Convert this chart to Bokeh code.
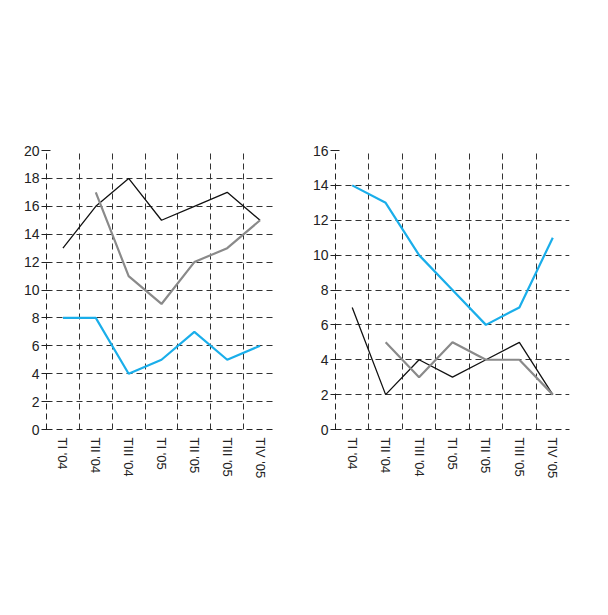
import math
from bokeh.plotting import figure
from bokeh.models import FixedTicker, Range1d, Label
from bokeh.layouts import row
from bokeh.embed import file_html
from bokeh.resources import INLINE

# ---- data ----
categories = ["TI '04", "TII '04", "TIII '04", "TI '05", "TII '05", "TIII '05", "TIV '05"]
series_names = ["Shqiptarë", "Të huaj", "Emigrantë"]

personale_shqiptare = [13, 16, 18, 15, 16, 17, 15]
personale_te_huaj = [8, 8, 4, 5, 7, 5, 6]
personale_emigrante = [None, 17, 11, 9, 12, 13, 15]

biznes_shqiptare = [7, 2, 4, 3, 4, 5, 2]
biznes_te_huaj = [14, 13, 10, 8, 6, 7, 11]
biznes_emigrante = [None, 5, 3, 5, 4, 4, 2]

personale_yticks = [0, 2, 4, 6, 8, 10, 12, 14, 16, 18, 20]
biznes_yticks = [0, 2, 4, 6, 8, 10, 12, 14, 16]

title_lines = ["Grafik 5. Ditëqëndrimi mesatar i udhëtarëve",
               "sipas qëllimit të udhëtimit."]
source_text = "Burimi: Banka e Shqipërisë."

FONT = "Open Sans"
TXT = "#222222"
COLORS = ["#111111", "#1aaeea", "#8a8a8a"]
WIDTHS = [1.3, 2.2, 2.2]

FIG_H = 599
FRAME_TOP = 150
FRAME_H = 279


def make_chart(title, series, yticks, width, border_left, border_right,
               frame_left_page, frame_w, legend_left_page):
    n = len(categories)
    xs = [i + 1 for i in range(n)]
    p = figure(width=width, height=FIG_H, output_backend="svg", toolbar_location=None,
               x_range=Range1d(0.5, n + 0.5), y_range=Range1d(yticks[0], yticks[-1]),
               min_border_left=border_left, min_border_right=border_right,
               min_border_top=FRAME_TOP, min_border_bottom=FIG_H - FRAME_TOP - FRAME_H)
    p.outline_line_color = None

    boundaries = [i + 0.5 for i in range(n + 1)]
    xa = p.xaxis[0]
    xa.ticker = FixedTicker(ticks=xs)
    xa.major_label_overrides = {x: c for x, c in zip(xs, categories)}
    xa.major_label_orientation = -math.pi / 2
    xa.major_tick_in = 0
    xa.major_tick_out = 0
    xa.axis_line_dash = "6 4"
    xa.axis_line_color = TXT
    xa.major_label_text_font_size = "13px"
    xa.major_label_text_color = TXT
    xa.major_label_standoff = 8
    ya = p.yaxis[0]
    ya.ticker = FixedTicker(ticks=yticks)
    ya.major_tick_in = 4
    ya.major_tick_out = 5
    ya.axis_line_dash = "6 4"
    ya.axis_line_color = TXT
    ya.major_tick_line_color = TXT
    ya.major_label_text_font_size = "14px"
    ya.major_label_text_color = TXT
    ya.major_label_standoff = 2
    p.xgrid.ticker = FixedTicker(ticks=boundaries)
    p.ygrid.ticker = FixedTicker(ticks=yticks)
    for g in (p.xgrid[0], p.ygrid[0]):
        g.grid_line_color = "#333333"
        g.grid_line_dash = "6 4"
        g.grid_line_width = 1

    for vals, col, lw in zip(series, COLORS, WIDTHS):
        ys = [float("nan") if v is None else v for v in vals]
        p.line(xs, ys, line_color=col, line_width=lw)

    # pixel -> data helpers for the decorations around the frame
    ymax = yticks[-1]
    ux = n / frame_w
    uy = ymax / FRAME_H

    def dx(px):
        return 0.5 + (px - frame_left_page) * ux

    def dy(py):
        return ymax + (158 - py) * uy

    # subplot title
    p.add_layout(Label(x=(n + 1) / 2, y=dy(140), text=title,
                       text_align="center", text_baseline="middle",
                       text_font=FONT, text_font_size="16px", text_color=TXT))
    # legend (line sample + name)
    for k, (name, col) in enumerate(zip(series_names, COLORS)):
        ypage = 517 + 20 * k
        p.add_layout(Label(x=dx(legend_left_page), y=dy(ypage + 1), text="——",
                           text_align="left", text_baseline="middle",
                           text_font_size="12.5px", text_color=col))
        p.add_layout(Label(x=dx(legend_left_page + 26), y=dy(ypage), text=name,
                           text_align="left", text_baseline="middle",
                           text_font=FONT, text_font_size="15px", text_color="#111111"))
    # main title (centred on the page; each half draws its part)
    for line, ypage in zip(title_lines, [64, 93]):
        p.add_layout(Label(x=dx(316), y=dy(ypage), text=line,
                           text_align="center", text_baseline="middle",
                           text_font=FONT, text_font_size="23px", text_color=TXT))
    return p, dx, dy


p1, dx1, dy1 = make_chart("Personale",
                          [personale_shqiptare, personale_te_huaj, personale_emigrante],
                          personale_yticks, 291, 46, 15, 54, 230, 103)
p2, dx2, dy2 = make_chart("Biznes",
                          [biznes_shqiptare, biznes_te_huaj, biznes_emigrante],
                          biznes_yticks, 300, 44, 22, 343, 234, 400)

# source note, bottom right
p2.add_layout(Label(x=dx2(597), y=dy2(597), text=source_text,
                    text_align="right", text_baseline="middle",
                    text_font=FONT, text_font_size="14px", text_color=TXT))

layout = row(p1, p2)

open("out.html", "w").write(file_html(layout, INLINE))
